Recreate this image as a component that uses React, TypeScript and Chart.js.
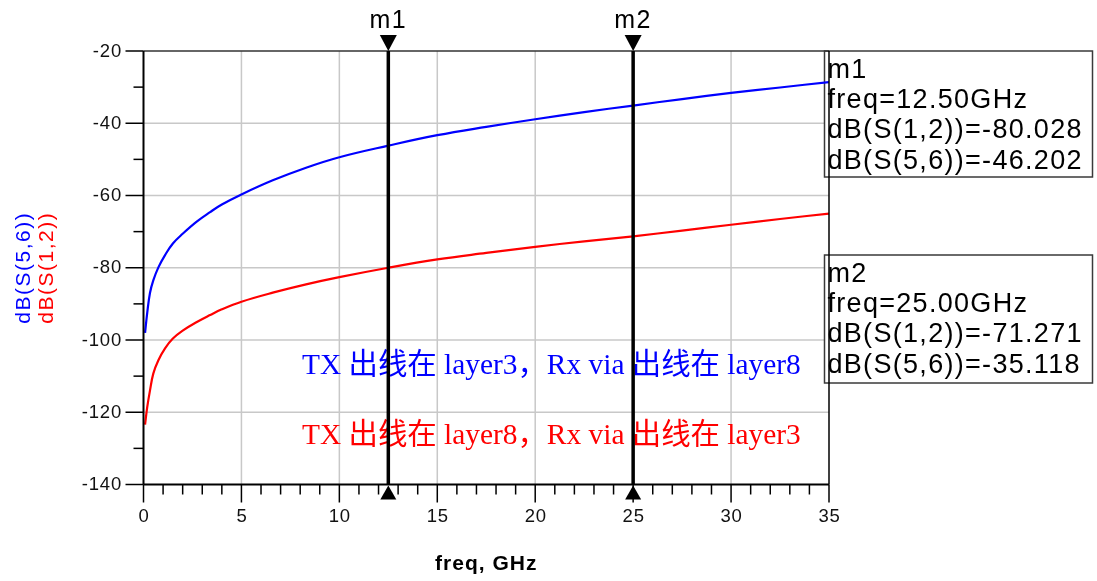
import React, { useEffect, useRef } from 'react';
import { Chart, registerables } from 'chart.js';

Chart.register(...registerables);

// ---- data ----
const freqGHz = [0.08, 0.19, 0.33, 0.5, 0.76, 1.1, 1.5, 2, 2.7, 3.4, 4, 5, 6.6, 8.3, 10, 12.5, 15, 17.5, 20, 22.5, 25, 27.5, 30, 32.5, 35];
const s56dB = [-98, -92.5, -87, -83.5, -79.9, -76.5, -73.3, -70.6, -67.3, -64.6, -62.5, -59.7, -55.8, -52.3, -49.4, -46.2, -43.3, -41, -38.9, -36.9, -35.1, -33.3, -31.6, -30.1, -28.6];
const s12dB = [-123.4, -118.6, -114, -109.3, -105.6, -102.3, -99.6, -97.4, -95.1, -93.1, -91.5, -89.4, -86.9, -84.6, -82.6, -80.0, -77.7, -75.9, -74.2, -72.7, -71.3, -69.7, -68.1, -66.5, -65.0];

const xTicks = [0, 5, 10, 15, 20, 25, 30, 35];
const yTicks = [-20, -40, -60, -80, -100, -120, -140];
const xMinorStep = 1;
const yMinorStep = 10;

const markerNames = ['m1', 'm2'];
const markerFreqs = [12.5, 25];
const m1Lines = ['m1', 'freq=12.50GHz', 'dB(S(1,2))=-80.028', 'dB(S(5,6))=-46.202'];
const m2Lines = ['m2', 'freq=25.00GHz', 'dB(S(1,2))=-71.271', 'dB(S(5,6))=-35.118'];

const noteBlue = 'TX 出线在 layer3，Rx via 出线在 layer8';
const noteRed = 'TX 出线在 layer8，Rx via 出线在 layer3';

const xTitle = 'freq, GHz';
const yTitleBlue = 'dB(S(5,6))';
const yTitleRed = 'dB(S(1,2))';

const SANS = '"Liberation Sans", Arial, sans-serif';
const SERIF = '"Liberation Serif", "Noto Sans CJK SC", serif';

function line(ctx: CanvasRenderingContext2D, x1: number, y1: number, x2: number, y2: number) {
  ctx.beginPath();
  ctx.moveTo(x1, y1);
  ctx.lineTo(x2, y2);
  ctx.stroke();
}

function drawBox(ctx: CanvasRenderingContext2D, bx: number, by: number, bw: number, bh: number, lines: string[]) {
  ctx.save();
  ctx.fillStyle = '#ffffff';
  ctx.fillRect(bx, by, bw, bh);
  ctx.strokeStyle = '#3a3a3a';
  ctx.lineWidth = 1.5;
  ctx.strokeRect(bx, by, bw, bh);
  ctx.fillStyle = '#000000';
  ctx.font = `27px ${SANS}`;
  (ctx as any).letterSpacing = '1.3px';
  ctx.textAlign = 'left';
  ctx.textBaseline = 'alphabetic';
  lines.forEach((t, i) => {
    ctx.fillText(t, bx + 3, by + 26.5 + i * 30.4);
  });
  ctx.restore();
}

const decorPlugin = {
  id: 'adsDecor',
  beforeDatasetsDraw(chart: any) {
    const { ctx, chartArea: a, scales } = chart;
    const x = scales.x;
    const y = scales.y;
    ctx.save();
    ctx.strokeStyle = '#c8c8c8';
    ctx.lineWidth = 1.5;
    xTicks.forEach((t) => {
      if (t === xTicks[0] || t === xTicks[xTicks.length - 1]) return;
      const px = x.getPixelForValue(t);
      line(ctx, px, a.top, px, a.bottom);
    });
    yTicks.forEach((t) => {
      if (t === yTicks[0] || t === yTicks[yTicks.length - 1]) return;
      const py = y.getPixelForValue(t);
      line(ctx, a.left, py, a.right, py);
    });
    ctx.restore();
    drawBox(ctx, 824.5, 51, 268, 126, m1Lines);
    drawBox(ctx, 824.5, 255, 268, 128, m2Lines);
  },
  afterDatasetsDraw(chart: any) {
    const { ctx, chartArea: a, scales } = chart;
    const x = scales.x;
    const y = scales.y;
    ctx.save();

    // annotations
    ctx.font = `29.4px ${SERIF}`;
    ctx.textAlign = 'left';
    ctx.textBaseline = 'alphabetic';
    ctx.fillStyle = '#0000ff';
    ctx.fillText(noteBlue, 302, 374);
    ctx.fillStyle = '#ff0000';
    ctx.fillText(noteRed, 302, 444);

    // frame
    ctx.strokeStyle = '#333333';
    ctx.lineWidth = 1.5;
    line(ctx, a.left, a.top, a.right, a.top);
    ctx.strokeStyle = '#000000';
    ctx.lineWidth = 2;
    line(ctx, a.left, a.top, a.left, a.bottom);
    line(ctx, a.left, a.bottom, a.right, a.bottom);
    ctx.lineWidth = 1.5;
    line(ctx, a.right, a.top, a.right, a.bottom);

    // ticks
    ctx.lineWidth = 1.5;
    ctx.strokeStyle = '#000000';
    const x0 = xTicks[0];
    const x1 = xTicks[xTicks.length - 1];
    for (let v = x0; v <= x1 + 1e-9; v += xMinorStep) {
      const px = x.getPixelForValue(v);
      const major = xTicks.includes(v);
      line(ctx, px, a.bottom, px, a.bottom + (major ? 18 : 10));
    }
    const yTop = yTicks[0];
    const yBot = yTicks[yTicks.length - 1];
    for (let v = yBot; v <= yTop + 1e-9; v += yMinorStep) {
      const py = y.getPixelForValue(v);
      const major = yTicks.includes(v);
      line(ctx, a.left - (major ? 18 : 10), py, a.left, py);
    }

    // tick labels
    ctx.fillStyle = '#111111';
    ctx.font = `18.5px ${SANS}`;
    (ctx as any).letterSpacing = '0.8px';
    ctx.textBaseline = 'middle';
    ctx.textAlign = 'right';
    yTicks.forEach((t) => {
      ctx.fillText(String(t), 122, y.getPixelForValue(t) + 0.5);
    });
    ctx.textAlign = 'center';
    xTicks.forEach((t) => {
      ctx.fillText(String(t), x.getPixelForValue(t) + 0.5, 517);
    });

    // axis titles
    ctx.fillStyle = '#000000';
    ctx.font = `bold 21px ${SANS}`;
    (ctx as any).letterSpacing = '1px';
    ctx.textBaseline = 'alphabetic';
    ctx.fillText(xTitle, (a.left + a.right) / 2, 570);

    ctx.font = `21px ${SANS}`;
    (ctx as any).letterSpacing = '1.5px';
    const cy = (a.top + a.bottom) / 2;
    ctx.save();
    ctx.translate(30, cy);
    ctx.rotate(-Math.PI / 2);
    ctx.fillStyle = '#0000ff';
    ctx.fillText(yTitleBlue, 0, 0);
    ctx.restore();
    ctx.save();
    ctx.translate(53, cy);
    ctx.rotate(-Math.PI / 2);
    ctx.fillStyle = '#ff0000';
    ctx.fillText(yTitleRed, 0, 0);
    ctx.restore();

    // markers
    (ctx as any).letterSpacing = '1.5px';
    markerFreqs.forEach((f, i) => {
      const px = x.getPixelForValue(f);
      ctx.strokeStyle = '#000000';
      ctx.lineWidth = 3.5;
      line(ctx, px, a.top, px, a.bottom);
      ctx.fillStyle = '#000000';
      ctx.beginPath();
      ctx.moveTo(px - 8.5, a.top - 16);
      ctx.lineTo(px + 8.5, a.top - 16);
      ctx.lineTo(px, a.top);
      ctx.closePath();
      ctx.fill();
      ctx.beginPath();
      ctx.moveTo(px, a.bottom + 1);
      ctx.lineTo(px + 8, a.bottom + 15);
      ctx.lineTo(px - 8, a.bottom + 15);
      ctx.closePath();
      ctx.fill();
      ctx.font = `25px ${SANS}`;
      ctx.textAlign = 'center';
      ctx.textBaseline = 'alphabetic';
      ctx.fillText(markerNames[i], px, 28);
    });

    ctx.restore();
  },
};

export default function App() {
  const canvasRef = useRef<HTMLCanvasElement | null>(null);

  useEffect(() => {
    const canvas = canvasRef.current;
    if (!canvas) return;
    const chart = new Chart(canvas, {
      type: 'line',
      data: {
        datasets: [
          {
            label: yTitleBlue,
            data: freqGHz.map((f, i) => ({ x: f, y: s56dB[i] })),
            borderColor: '#0000ff',
            borderWidth: 2.2,
            pointRadius: 0,
            tension: 0.4,
            fill: false,
          },
          {
            label: yTitleRed,
            data: freqGHz.map((f, i) => ({ x: f, y: s12dB[i] })),
            borderColor: '#ff0000',
            borderWidth: 2.2,
            pointRadius: 0,
            tension: 0.4,
            fill: false,
          },
        ],
      },
      options: {
        animation: false,
        responsive: false,
        devicePixelRatio: 1,
        layout: { padding: { left: 143.5, right: 268, top: 51, bottom: 96.5 } },
        plugins: { legend: { display: false }, tooltip: { enabled: false } },
        scales: {
          x: { type: 'linear', min: 0, max: 35, display: false },
          y: { type: 'linear', min: -140, max: -20, display: false },
        },
      },
      plugins: [decorPlugin],
    } as any);
    return () => chart.destroy();
  }, []);

  return (
    <div style={{ position: 'fixed', left: 0, top: 0, width: 1097, height: 581, background: '#ffffff' }}>
      <canvas ref={canvasRef} width={1097} height={581} style={{ display: 'block' }} />
    </div>
  );
}
